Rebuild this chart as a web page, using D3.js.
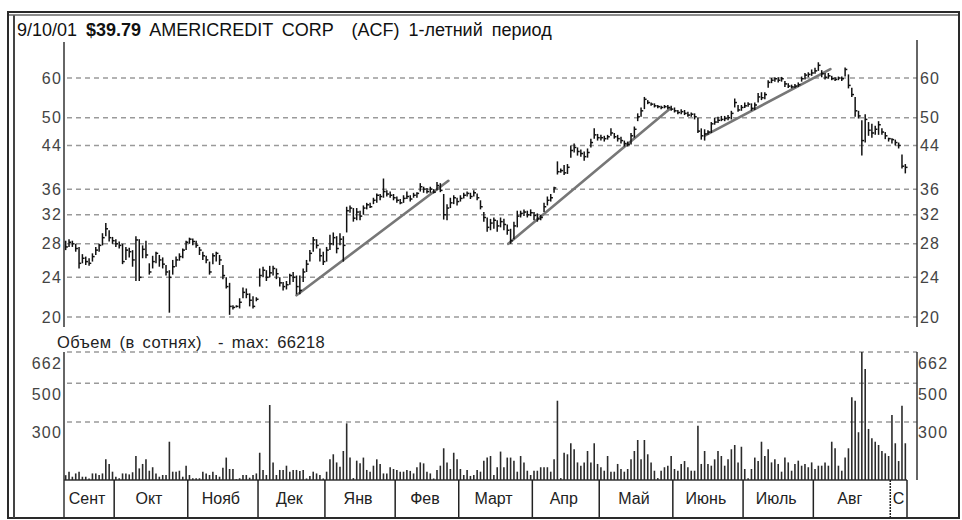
<!DOCTYPE html>
<html>
<head>
<meta charset="utf-8">
<script src="https://cdnjs.cloudflare.com/ajax/libs/d3/7.8.5/d3.min.js"></script>
<style>
  body { margin: 0; background: #fff; }
  svg { display: block; }
</style>
</head>
<body>
<script>
// trading days per month, 9/11/2000 .. 9/10/2001
const monthLabels = ['Сент', 'Окт', 'Нояб', 'Дек', 'Янв', 'Фев', 'Март', 'Апр', 'Май', 'Июнь', 'Июль', 'Авг', 'С'];
const monthDays = [15, 22, 21, 20, 21, 19, 22, 20, 22, 21, 21, 23, 5];

// daily high / low / close, one row per month
const priceHigh = [
  28.4, 28.6, 28.4, 28.0, 27.6, 26.7, 26.4, 26.2, 26.8, 27.6, 28.0, 29.4, 30.8, 29.8, 28.9,
  28.6, 28.3, 28.0, 27.6, 27.5, 27.2, 29.0, 28.6, 27.8, 28.4, 25.6, 26.5, 27.0, 26.6, 26.3, 25.4, 24.8, 26.0, 26.4, 26.8, 27.4, 28.4,
  28.8, 28.7, 28.4, 27.6, 27.0, 26.5, 25.8, 26.8, 27.0, 26.6, 25.4, 24.0, 23.4, 21.1, 21.1, 21.8, 22.9, 22.8, 22.3, 22.0, 21.9,
  25.0, 25.2, 24.8, 25.3, 25.3, 25.0, 24.0, 23.5, 23.6, 24.4, 24.6, 24.2, 24.2, 25.0, 26.0, 27.2, 28.9, 28.6, 27.4, 27.0,
  27.6, 29.2, 29.5, 29.0, 29.4, 29.0, 33.2, 33.4, 33.0, 33.0, 32.6, 33.4, 33.8, 33.8, 34.6, 35.3, 35.2, 37.8, 35.8, 35.6, 35.2,
  34.8, 34.4, 35.0, 35.6, 35.0, 35.4, 35.5, 37.0, 36.4, 36.2, 36.4, 36.0, 37.2, 37.0, 35.2, 33.6, 34.6, 35.0, 34.6,
  35.0, 35.4, 35.6, 35.4, 35.8, 35.3, 34.2, 32.4, 31.6, 31.4, 31.6, 31.2, 31.6, 31.4, 30.6, 30.0, 31.0, 32.6, 32.6, 32.8, 32.6, 32.8,
  32.4, 32.2, 32.0, 33.8, 34.8, 35.2, 36.4, 40.9, 39.6, 40.2, 40.4, 44.0, 44.4, 43.6, 43.2, 42.8, 43.4, 45.4, 47.6, 46.4,
  46.2, 46.0, 46.2, 47.6, 46.6, 46.2, 45.8, 45.0, 44.8, 46.6, 48.0, 51.0, 52.4, 55.0, 54.2, 53.6, 53.4, 53.0, 52.8, 53.0, 53.0, 52.8,
  52.4, 51.8, 52.0, 51.8, 51.4, 51.2, 51.0, 50.0, 47.6, 47.4, 47.2, 49.0, 50.0, 50.2, 50.4, 50.4, 50.6, 51.6, 54.6, 53.0, 53.0,
  53.6, 53.7, 53.4, 53.6, 56.0, 56.2, 56.2, 59.4, 60.0, 60.2, 60.2, 60.3, 59.2, 58.6, 58.2, 58.4, 58.8, 60.4, 61.4, 61.6, 62.4,
  62.9, 64.5, 62.2, 61.4, 61.4, 60.6, 60.2, 60.4, 60.4, 63.0, 61.0, 57.4, 55.0, 51.6, 49.4, 50.8, 49.0, 48.6, 48.2, 49.2, 47.6, 46.8, 45.6,
  45.5, 45.2, 44.6, 42.2, 40.4
];
const priceLow = [
  27.2, 27.6, 27.6, 27.0, 25.0, 25.6, 25.4, 25.3, 25.8, 26.6, 27.0, 27.8, 29.0, 28.3, 28.0,
  27.6, 27.4, 25.5, 26.0, 26.3, 25.2, 23.6, 23.6, 26.2, 26.2, 24.3, 25.0, 25.6, 25.2, 25.0, 24.2, 20.4, 24.3, 25.2, 25.9, 26.2, 27.2,
  28.0, 27.8, 27.5, 26.6, 26.0, 25.6, 24.3, 25.5, 25.8, 25.4, 23.8, 22.8, 20.2, 20.7, 20.9, 20.8, 21.8, 21.8, 21.0, 20.8, 21.5,
  23.0, 24.0, 23.6, 24.0, 24.2, 23.8, 23.0, 22.6, 22.7, 23.2, 23.5, 22.2, 22.2, 23.5, 24.6, 25.8, 27.0, 27.4, 25.8, 25.4,
  25.8, 27.2, 27.8, 26.8, 27.8, 25.8, 29.5, 32.3, 31.0, 31.2, 31.2, 32.0, 32.8, 33.0, 33.6, 33.8, 34.2, 34.6, 34.8, 34.6, 34.2,
  33.8, 33.6, 33.8, 34.4, 34.0, 34.6, 34.6, 35.6, 35.4, 35.3, 35.4, 35.3, 35.8, 35.5, 31.3, 31.2, 33.0, 33.6, 33.4,
  34.0, 34.5, 34.8, 34.4, 34.8, 34.2, 32.8, 31.0, 29.6, 29.8, 30.0, 29.6, 30.2, 29.8, 29.2, 28.0, 28.6, 30.2, 31.6, 31.8, 31.6, 31.8,
  31.2, 31.0, 31.2, 32.4, 33.4, 34.0, 35.4, 38.5, 38.8, 38.4, 38.6, 41.6, 42.6, 42.0, 41.8, 41.0, 41.6, 43.6, 45.4, 45.0,
  45.0, 44.8, 45.2, 46.0, 45.4, 44.8, 44.4, 43.8, 43.8, 44.2, 45.6, 49.2, 50.2, 52.0, 53.2, 52.8, 52.4, 52.2, 52.0, 52.2, 52.0, 51.6,
  51.2, 50.8, 50.8, 50.6, 50.2, 50.2, 49.6, 46.6, 45.2, 45.0, 46.2, 46.6, 48.4, 48.8, 49.2, 49.2, 49.4, 49.6, 52.4, 51.4, 51.6,
  52.3, 52.6, 51.6, 51.8, 53.6, 54.2, 54.4, 57.4, 58.6, 59.0, 58.8, 59.0, 57.6, 57.3, 57.2, 57.3, 57.6, 59.0, 59.6, 60.2, 60.6,
  61.2, 62.0, 60.2, 59.6, 59.8, 59.4, 59.2, 59.4, 59.2, 60.4, 57.2, 55.0, 50.2, 49.8, 42.0, 44.6, 46.0, 45.6, 46.2, 46.2, 46.2, 45.3, 44.8,
  44.4, 44.0, 43.4, 39.6, 38.7
];
const priceClose = [
  27.6, 28.2, 28.0, 27.4, 25.6, 26.2, 25.8, 25.6, 26.4, 27.2, 27.8, 28.8, 30.0, 28.8, 28.4,
  28.0, 27.8, 25.8, 27.2, 27.0, 26.0, 28.5, 24.0, 27.3, 26.6, 24.6, 25.8, 26.8, 26.0, 25.5, 24.6, 24.0, 25.2, 26.0, 26.4, 27.2, 28.2,
  28.6, 28.3, 27.8, 27.2, 26.5, 26.0, 24.6, 26.5, 26.8, 26.0, 24.2, 23.0, 21.0, 20.9, 21.0, 21.4, 22.4, 22.2, 21.6, 21.0, 21.7,
  24.2, 24.8, 24.0, 24.5, 25.0, 24.4, 23.4, 23.0, 23.2, 24.2, 24.0, 23.0, 22.6, 24.6, 25.5, 26.8, 28.5, 27.8, 26.5, 25.8,
  27.2, 28.0, 28.8, 27.4, 28.6, 27.8, 32.6, 33.0, 31.5, 32.4, 31.8, 33.0, 33.5, 33.2, 34.2, 35.0, 34.8, 35.6, 35.2, 35.0, 34.6,
  34.2, 33.8, 34.5, 34.8, 34.4, 35.0, 35.3, 36.4, 36.0, 35.6, 36.0, 35.5, 36.6, 35.8, 32.0, 33.0, 33.8, 34.6, 34.0,
  34.5, 35.0, 35.3, 34.8, 35.4, 34.6, 33.2, 31.6, 30.2, 30.8, 31.2, 30.4, 31.0, 30.6, 29.8, 28.4, 30.4, 31.8, 32.2, 32.4, 32.0, 32.3,
  31.9, 31.4, 31.6, 33.2, 34.2, 34.6, 36.2, 39.0, 39.2, 38.8, 39.8, 43.0, 43.6, 42.8, 42.4, 41.8, 42.6, 44.6, 46.2, 45.6,
  45.6, 45.4, 45.8, 46.6, 45.8, 45.4, 45.0, 44.4, 44.2, 46.0, 47.4, 50.2, 51.6, 54.4, 53.6, 53.2, 52.8, 52.6, 52.4, 52.6, 52.4, 52.0,
  51.6, 51.2, 51.4, 51.0, 50.6, 50.8, 50.2, 47.0, 46.0, 46.4, 46.8, 48.6, 49.0, 49.4, 49.6, 49.8, 50.0, 51.0, 53.6, 51.8, 52.4,
  52.8, 53.2, 52.2, 53.0, 55.0, 54.8, 55.6, 58.8, 59.4, 59.8, 59.4, 59.8, 58.4, 57.8, 57.6, 57.8, 58.2, 59.8, 60.8, 61.0, 61.4,
  62.0, 63.6, 61.2, 60.2, 60.6, 59.8, 59.6, 60.0, 59.8, 62.4, 58.0, 55.6, 51.6, 50.4, 45.0, 49.6, 47.2, 46.6, 47.4, 48.4, 46.8, 46.0, 45.4,
  45.2, 44.6, 44.0, 40.0, 39.79
];

// daily volume, hundreds of shares
const volume = [
  25, 43, 17, 34, 43, 17, 17, 8, 34, 34, 26, 34, 107, 83, 43,
  17, 9, 34, 34, 29, 40, 124, 60, 83, 107, 48, 66, 34, 17, 26, 26, 198, 43, 43, 48, 17, 74,
  26, 9, 9, 9, 43, 34, 26, 43, 26, 17, 64, 116, 57, 57, 4, 9, 26, 26, 12, 26, 34,
  141, 52, 26, 388, 91, 26, 52, 52, 74, 43, 52, 52, 47, 52, 8, 21, 43, 34, 26, 8,
  43, 107, 133, 91, 69, 150, 293, 116, 10, 100, 86, 116, 52, 43, 74, 107, 83, 34, 34, 66, 57,
  52, 43, 43, 52, 47, 34, 66, 91, 86, 43, 34, 8, 52, 74, 164, 91, 57, 141, 107,
  57, 26, 52, 21, 26, 52, 43, 100, 116, 124, 26, 66, 147, 66, 116, 116, 100, 43, 124, 91, 48, 26,
  48, 48, 66, 66, 66, 43, 107, 410, 10, 141, 133, 190, 159, 91, 74, 91, 150, 91, 190, 83,
  66, 48, 124, 43, 43, 83, 57, 43, 57, 107, 150, 207, 107, 207, 133, 91, 48, 10, 48, 66, 74, 124,
  57, 48, 83, 98, 66, 48, 48, 281, 83, 150, 83, 74, 107, 150, 124, 74, 107, 159, 181, 91, 172,
  57, 9, 57, 116, 98, 198, 124, 159, 91, 107, 83, 43, 116, 91, 48, 83, 100, 74, 83, 66, 91,
  57, 74, 74, 91, 74, 198, 164, 74, 48, 116, 164, 428, 410, 247, 662.18, 574, 264, 216, 198, 181, 150, 138, 124,
  336, 190, 98, 384, 190
];

const priceTicks = [20, 24, 28, 32, 36, 44, 50, 60];
const volumeTicks = [300, 500, 662];

// trend lines: day position and price of both ends
const trendFromDay = [69.5, 132.8, 191.7];
const trendFromPrice = [22.1, 28.0, 46.1];
const trendToDay = [114.9, 181.3, 229.1];
const trendToPrice = [37.4, 52.2, 62.5];

const W = 962, H = 520;
const PLOT_L = 64, PLOT_R = 917, DATA_R = 907;
const PRICE_TOP = 78, PRICE_BOT = 317;
const VOL_TOP = 352, VOL_BOT = 480, MONTH_BOT = 517;
const FONT = "'Liberation Sans', Arial, sans-serif";

const svg = d3.select('body').append('svg')
  .attr('width', W)
  .attr('height', H);

const nDays = d3.sum(monthDays);
const x = d3.scaleLinear().domain([0, nDays]).range([PLOT_L, DATA_R]);
const yP = d3.scaleLog().domain([20, 60]).range([PRICE_BOT, PRICE_TOP]);
const yV = d3.scaleLinear().domain([0, 662]).range([VOL_BOT, VOL_TOP]);

// frame
svg.append('rect').attr('x', 8).attr('y', 12).attr('width', 951).attr('height', 506)
  .attr('fill', 'none').attr('stroke', '#2a2a2a').attr('stroke-width', 2);
svg.append('line').attr('x1', 14).attr('x2', 14).attr('y1', 15).attr('y2', 518)
  .attr('stroke', '#444').attr('stroke-width', 2);
svg.append('line').attr('x1', 9).attr('x2', 958).attr('y1', 15).attr('y2', 15)
  .attr('stroke', '#666').attr('stroke-width', 1.5);

// title
const title = svg.append('text')
  .attr('x', 17).attr('y', 36)
  .attr('font-family', FONT).attr('font-size', 18)
  .attr('word-spacing', 4)
  .attr('fill', '#111')
  .style('white-space', 'pre');
title.append('tspan').text('9/10/01 ');
title.append('tspan').attr('font-weight', 'bold').text('$39.79');
title.append('tspan').text(' AMERICREDIT CORP  (ACF) 1-летний период');

// gridlines
const grid = svg.append('g')
  .attr('stroke', '#9a9a9a').attr('stroke-width', 1.5).attr('stroke-dasharray', '5,4');
priceTicks.forEach(t => {
  grid.append('line').attr('x1', PLOT_L + 3).attr('x2', PLOT_R)
    .attr('y1', yP(t)).attr('y2', yP(t));
});
volumeTicks.forEach(t => {
  grid.append('line').attr('x1', PLOT_L + 3).attr('x2', PLOT_R)
    .attr('y1', yV(t)).attr('y2', yV(t));
});

// axis lines
const axisLines = svg.append('g').attr('stroke', '#333').attr('stroke-width', 1.5);
axisLines.append('line').attr('x1', PLOT_L).attr('x2', PLOT_L).attr('y1', 42).attr('y2', 327);
axisLines.append('line').attr('x1', PLOT_R).attr('x2', PLOT_R).attr('y1', 40).attr('y2', 327);
axisLines.append('line').attr('x1', PLOT_L).attr('x2', PLOT_L).attr('y1', VOL_TOP).attr('y2', MONTH_BOT);
axisLines.append('line').attr('x1', PLOT_R).attr('x2', PLOT_R).attr('y1', VOL_TOP).attr('y2', VOL_BOT);
axisLines.append('line').attr('x1', PLOT_L).attr('x2', DATA_R).attr('y1', VOL_BOT).attr('y2', VOL_BOT);

// tick labels
function styleAxis(g) {
  g.select('.domain').remove();
  g.selectAll('text')
    .attr('font-family', FONT).attr('font-size', 16)
    .attr('fill', '#444').attr('letter-spacing', 1.2);
}
svg.append('g').attr('transform', `translate(${PLOT_L},0)`)
  .call(d3.axisLeft(yP).tickValues(priceTicks).tickFormat(d3.format('d')).tickSize(0).tickPadding(2))
  .call(styleAxis);
svg.append('g').attr('transform', `translate(${PLOT_R},0)`)
  .call(d3.axisRight(yP).tickValues(priceTicks).tickFormat(d3.format('d')).tickSize(0).tickPadding(3))
  .call(styleAxis);
svg.append('g').attr('transform', `translate(${PLOT_L},0)`)
  .call(d3.axisLeft(yV).tickValues(volumeTicks).tickSize(0).tickPadding(2))
  .call(styleAxis)
  .selectAll('text').attr('dy', 16);
svg.append('g').attr('transform', `translate(${PLOT_R},0)`)
  .call(d3.axisRight(yV).tickValues(volumeTicks).tickSize(0).tickPadding(1))
  .call(styleAxis)
  .selectAll('text').attr('dy', 16);

// volume caption
svg.append('text')
  .attr('x', 57).attr('y', 348)
  .attr('font-family', FONT).attr('font-size', 16.5)
  .attr('letter-spacing', 0.4).attr('word-spacing', 3)
  .attr('fill', '#222')
  .style('white-space', 'pre')
  .text('Объем (в сотнях)  - max: 66218');

// month boxes
const monthStart = d3.cumsum([0, ...monthDays]);
const months = svg.append('g');
monthStart.slice(1).forEach((s, i) => {
  months.append('line')
    .attr('x1', x(s)).attr('x2', x(s))
    .attr('y1', VOL_BOT).attr('y2', MONTH_BOT)
    .attr('stroke', '#222').attr('stroke-width', 1.5)
    .attr('stroke-dasharray', i === monthStart.length - 3 ? '2,1' : null);
});
monthLabels.forEach((m, i) => {
  months.append('text')
    .attr('x', (x(monthStart[i]) + x(monthStart[i + 1])) / 2 - (i === monthLabels.length - 1 ? 0 : 2))
    .attr('y', 504)
    .attr('text-anchor', 'middle')
    .attr('font-family', FONT).attr('font-size', 16).attr('fill', '#222')
    .text(m);
});

// volume bars
svg.append('g').attr('stroke', '#2b2b2b').attr('stroke-width', 1.6)
  .selectAll('line').data(volume).join('line')
  .attr('x1', (d, i) => x(i + 0.5)).attr('x2', (d, i) => x(i + 0.5))
  .attr('y1', yV(0)).attr('y2', d => yV(d));

// trend lines
svg.append('g').attr('stroke', '#777').attr('stroke-width', 2.6).attr('stroke-linecap', 'round')
  .selectAll('line').data(trendFromDay).join('line')
  .attr('x1', d => x(d)).attr('y1', (d, i) => yP(trendFromPrice[i]))
  .attr('x2', (d, i) => x(trendToDay[i])).attr('y2', (d, i) => yP(trendToPrice[i]));

// HLC bars
const bars = svg.append('g').attr('stroke', '#111').attr('stroke-width', 1.5);
priceClose.forEach((c, i) => {
  const cx = x(i + 0.5);
  bars.append('line').attr('x1', cx).attr('x2', cx)
    .attr('y1', yP(priceHigh[i])).attr('y2', yP(priceLow[i]));
  bars.append('line').attr('x1', cx).attr('x2', cx + 2.2)
    .attr('y1', yP(c)).attr('y2', yP(c));
});
</script>
</body>
</html>
